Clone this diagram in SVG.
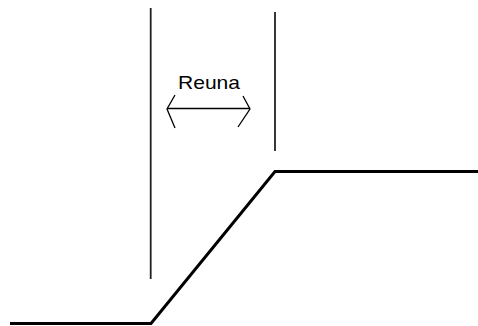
<svg xmlns="http://www.w3.org/2000/svg" width="478" height="326" viewBox="0 0 478 326">
<style>
.v{stroke:#222;stroke-width:1.8;fill:none}
.p{stroke:#000;stroke-width:3;fill:none;stroke-linejoin:miter}
.a{stroke:#000;stroke-width:1.3;fill:none}
.t{font-family:"Liberation Sans",Arial,sans-serif;font-size:19px;fill:#000}
</style>
<rect width="478" height="326" fill="#fff"/>
<g id="profile">
<polyline class="p" points="10,323.5 151,323.5 275,171.5 478,171.5"/>
</g>
<g id="boundary-left"><line class="v" x1="150.7" y1="8" x2="150.7" y2="279"/></g>
<g id="boundary-right"><line class="v" x1="275" y1="12" x2="275" y2="151"/></g>
<g id="reuna">
<text class="t" x="178" y="89" textLength="62" lengthAdjust="spacingAndGlyphs">Reuna</text>
<line class="a" x1="167" y1="108.5" x2="250" y2="108.5"/>
<polyline class="a" points="175,95 167,109 175,128"/>
<polyline class="a" points="243,96 250,109 238,127"/>
</g>
</svg>
